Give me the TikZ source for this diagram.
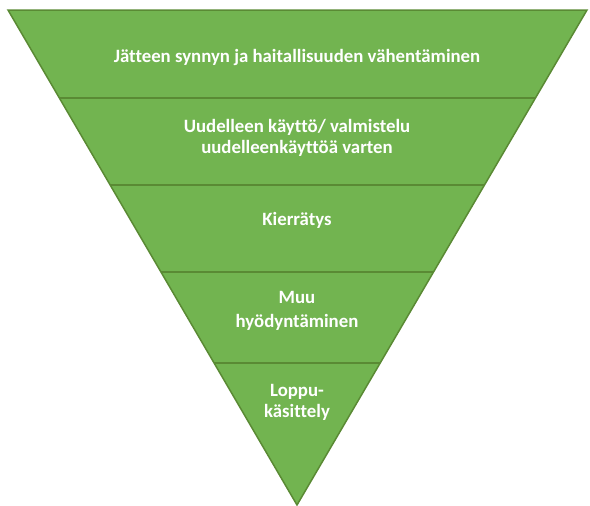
\documentclass[tikz,border=0pt]{standalone}
\usepackage{fontspec}
\setmainfont{Carlito}[Ligatures=CommonOff]
\usetikzlibrary{calc}
\definecolor{pyrfill}{HTML}{72B450}
\definecolor{pyrline}{HTML}{5A8A34}
\tikzset{
  band/.style={draw=pyrline, line width=1.5pt},
  lbl/.style={text=white, font=\bfseries\fontsize{18.8}{21}\selectfont, align=center, inner sep=0pt, anchor=base}
}
\begin{document}
\begin{tikzpicture}[x=1pt,y=-1pt]
\useasboundingbox (0,0) rectangle (590,506);
\coordinate (TL) at (8,10);
\coordinate (TR) at (587,10);
\coordinate (A) at (297,505);
\fill[pyrfill] (TL) -- (TR) -- (A) -- cycle;
\foreach \t/\n in {0.1778/1,0.3535/2,0.5293/3,0.7131/4}{
  \coordinate (L\n) at ($(TL)!\t!(A)$);
  \coordinate (R\n) at ($(TR)!\t!(A)$);
  \draw[band] (L\n) -- (R\n);
}
\draw[band, line join=miter] (TL) -- (TR) -- (A) -- cycle;
\node[lbl] (n1) at (297,62) {Jätteen synnyn ja haitallisuuden vähentäminen};
\node[lbl] (n2) at (297,153) {Uudelleen käyttö/ valmistelu\\uudelleenkäyttöä varten};
\node[lbl] (n3) at (297,225) {Kierrätys};
\node[lbl, font=\bfseries\fontsize{18.8}{24}\selectfont] (n4) at (297,327) {Muu\\hyödyntäminen};
\node[lbl] (n5) at (297,417) {Loppu-\\käsittely};
\end{tikzpicture}
\end{document}
